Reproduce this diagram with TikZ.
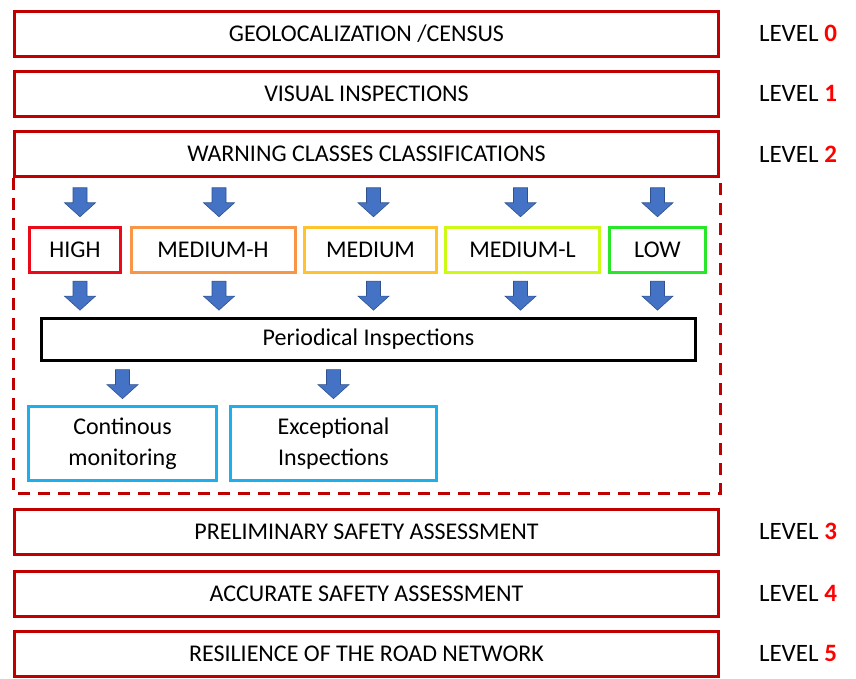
\documentclass[tikz,border=0pt]{standalone}
\usepackage{fontspec}
\setmainfont{Carlito}
\usetikzlibrary{positioning,calc}

\definecolor{boxred}{RGB}{192,0,0}
\definecolor{lvlred}{RGB}{255,0,0}
\definecolor{clhigh}{RGB}{235,10,25}
\definecolor{clmedh}{RGB}{247,150,70}
\definecolor{clmed}{RGB}{255,195,45}
\definecolor{clmedl}{RGB}{205,250,20}
\definecolor{cllow}{RGB}{40,230,40}
\definecolor{inspblue}{RGB}{30,175,235}
\definecolor{arrfill}{RGB}{68,114,196}
\definecolor{arrline}{RGB}{47,82,143}

\tikzset{
  txt/.style={font=\fontsize{24}{31}\selectfont},
  levelbox/.style={txt, draw=boxred, line width=3pt, minimum width=704pt, minimum height=45pt, inner sep=0pt},
  classbox/.style={txt, draw=#1, line width=3pt, minimum height=45pt, inner sep=0pt},
  inspbox/.style={txt, draw=inspblue, line width=3pt, minimum height=74pt, align=center, inner sep=0pt},
  levellabel/.style={font=\fontsize{25}{30}\selectfont},
  downarr/.pic={
    \filldraw[fill=arrfill, draw=arrline, line width=0.6pt]
      (-7,-14) -- (7,-14) -- (7,1) -- (15.5,1) -- (0,15) -- (-15.5,1) -- (-7,1) -- cycle;
  }
}

\begin{document}
\begin{tikzpicture}[x=1pt, y=-1pt]

    \useasboundingbox (0,0) rectangle (856,678);

    % Levels 0 to 2
    \node[levelbox] (geo)  at (366.5,33.5) {GEOLOCALIZATION /CENSUS};
    \node[levelbox] (vis)  at (366.5,93.5) {VISUAL INSPECTIONS};
    \node[levelbox] (warn) at (366.5,154)  {WARNING CLASSES CLASSIFICATIONS};

    % Warning classes
    \node[classbox=clhigh, minimum width=91pt]  (high) at (75,249.5)    {HIGH};
    \node[classbox=clmedh, minimum width=164pt] (medh) at (213,249.5)   {MEDIUM-H};
    \node[classbox=clmed,  minimum width=132pt] (med)  at (370.5,249.5) {MEDIUM};
    \node[classbox=clmedl, minimum width=154pt] (medl) at (522.5,249.5) {MEDIUM-L};
    \node[classbox=cllow,  minimum width=96pt]  (low)  at (657.5,249.5) {LOW};

    % Inspections
    \node[classbox=black, line width=3.5pt, minimum width=654pt, minimum height=42pt] (period) at (368.5,339.5) {Periodical Inspections};
    \node[inspbox, minimum width=188pt] (cont) at (122.5,443.5) {Continous\\monitoring};
    \node[inspbox, minimum width=206pt] (exc)  at (333.5,443.5) {Exceptional\\Inspections};

    % Block arrows
    \foreach \c/\dx in {high/5,medh/6,med/3,medl/-2,low/0}{
      \pic[xshift=\dx] at ($(warn.south -| \c.north)!0.5!(\c.north)$) {downarr};
      \pic[xshift=\dx] at ($(\c.south)!0.5!(period.north -| \c.south)$) {downarr};
    }
    \pic at ($(period.south -| cont.north)!0.5!(cont.north)$) {downarr};
    \pic at ($(period.south -| exc.north)!0.5!(exc.north)$) {downarr};

    % Dashed frame round level 2
    \coordinate (dbot) at (0,493);
    \draw[boxred, line width=3pt, dash pattern=on 12pt off 8pt]
      (warn.south west) -- (warn.south west |- dbot) -| (warn.south east);

    % Levels 3 to 5
    \node[levelbox] (prelim) at (366.5,531.5) {PRELIMINARY SAFETY ASSESSMENT};
    \node[levelbox] (accur)  at (366.5,593.5) {ACCURATE SAFETY ASSESSMENT};
    \node[levelbox] (resil)  at (366.5,653.5) {RESILIENCE OF THE ROAD NETWORK};

    % Level labels
    \foreach \b/\n in {geo/0,vis/1,warn/2,prelim/3,accur/4,resil/5}
      \node[levellabel] (lbl\n) at (798,0 |- \b) {LEVEL \textcolor{lvlred}{\textbf{\n}}};

\end{tikzpicture}
\end{document}
